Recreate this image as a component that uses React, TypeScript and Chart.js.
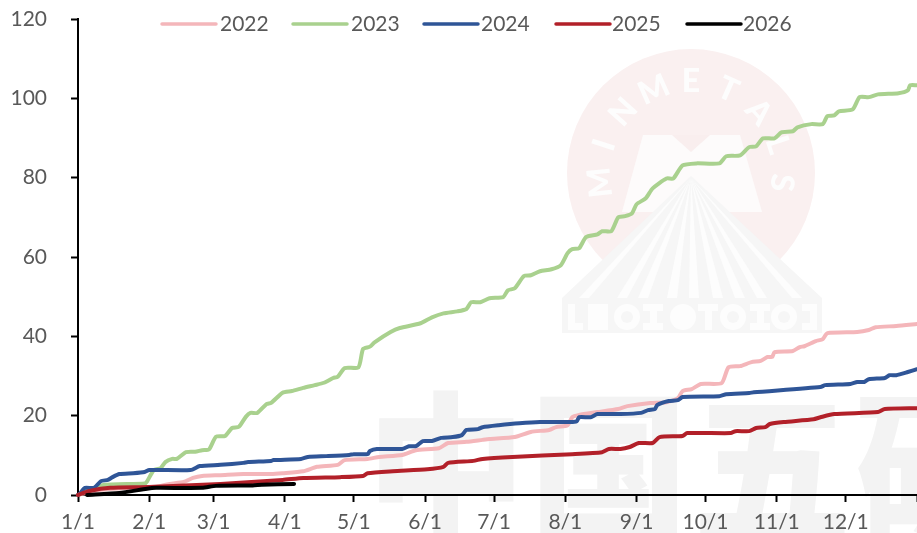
import React, { useEffect, useRef } from "react";
import { Chart, registerables } from "chart.js";

Chart.register(...registerables);

const monthStarts = [0, 31, 59, 90, 120, 151, 181, 212, 243, 273, 304, 334, 365];
const monthLabels = ["1/1", "2/1", "3/1", "4/1", "5/1", "6/1", "7/1", "8/1", "9/1", "10/1", "11/1", "12/1", ""];
const seriesNames = ["2022", "2023", "2024", "2025", "2026"];
const seriesColors = ["#F4B6BA", "#A9D18E", "#2F5597", "#B22029", "#000000"];

const days2022 = [0, 10, 23, 31, 36, 40, 46, 50, 54, 62, 72, 84, 89, 98, 104, 113, 116, 126, 131, 141, 147, 157, 161, 169, 176, 179, 190, 197, 205, 208, 213, 215, 218, 226, 235, 239, 249, 256, 261, 263, 267, 271, 280, 283, 288, 293, 297, 300, 302, 303, 311, 314, 316, 321, 324, 326, 339, 344, 347, 356, 365];
const values2022 = [0, 1.3, 1.8, 2, 2.3, 2.8, 3.3, 4.3, 4.8, 5, 5.3, 5.3, 5.5, 6, 7.1, 7.6, 8.8, 9.1, 9.6, 10.1, 11.3, 11.8, 13.1, 13.4, 13.9, 14.1, 14.6, 15.9, 16.4, 17.1, 17.6, 19.6, 20.2, 20.9, 21.7, 22.4, 23.2, 23.4, 24.4, 26.2, 26.7, 28, 28.2, 32.2, 32.5, 33.5, 33.8, 34.8, 34.8, 36, 36.3, 37.3, 37.5, 38.8, 39.3, 40.8, 41.1, 41.6, 42.3, 42.6, 43.1];

const days2023 = [0, 5, 11, 29, 30, 33, 36, 38, 41, 43, 47, 51, 54, 57, 60, 64, 67, 70, 73, 75, 78, 82, 84, 89, 93, 98, 103, 107, 111, 113, 116, 122, 124, 127, 129, 136, 140, 149, 154, 159, 165, 169, 171, 175, 179, 185, 187, 190, 194, 197, 201, 206, 210, 213, 215, 218, 221, 226, 228, 232, 235, 238, 241, 243, 247, 250, 256, 259, 263, 269, 279, 282, 288, 292, 295, 298, 303, 306, 311, 313, 319, 324, 326, 329, 331, 337, 340, 344, 348, 357, 361, 362, 365];
const values2023 = [0, 1.3, 2.5, 2.9, 3.4, 6.3, 6.8, 8.3, 9.1, 9.1, 10.8, 10.9, 11.3, 11.5, 14.7, 14.9, 16.9, 17.2, 19.7, 20.7, 20.7, 22.9, 23.2, 25.8, 26.2, 27, 27.7, 28.3, 29.5, 29.8, 32, 32.2, 36.8, 37.4, 38.5, 41.1, 42.1, 43.3, 44.8, 45.8, 46.3, 46.9, 48.6, 48.6, 49.6, 49.9, 51.6, 52.1, 55.2, 55.4, 56.4, 56.9, 57.9, 61, 62, 62.2, 65, 65.7, 66.5, 66.5, 70, 70.3, 71, 73.3, 74.8, 77.3, 79.8, 79.8, 83.1, 83.6, 83.6, 85.4, 85.6, 87.7, 87.9, 89.9, 89.9, 91.4, 91.7, 92.7, 93.5, 93.5, 95.5, 95.7, 96.7, 97.2, 100.3, 100.3, 101, 101.3, 102, 103.3, 103.3];

const days2024 = [0, 1, 3, 7, 10, 13, 15, 18, 24, 29, 31, 49, 53, 62, 72, 74, 84, 85, 97, 100, 108, 118, 120, 126, 127, 130, 141, 144, 147, 150, 154, 158, 163, 167, 169, 174, 176, 183, 192, 201, 214, 217, 218, 223, 226, 236, 245, 248, 251, 252, 257, 261, 263, 279, 282, 292, 294, 323, 325, 336, 339, 342, 344, 351, 353, 356, 361, 365];
const values2024 = [0, 0.5, 1.8, 1.8, 3.5, 3.8, 4.5, 5.3, 5.5, 5.8, 6.3, 6.3, 7.3, 7.6, 8.1, 8.3, 8.6, 8.8, 9.1, 9.6, 9.8, 10.1, 10.3, 10.3, 11.1, 11.6, 11.6, 12.3, 12.3, 13.6, 13.6, 14.4, 14.6, 15.1, 16.4, 16.6, 17.1, 17.6, 18.1, 18.4, 18.4, 18.6, 19.6, 19.6, 20.4, 20.4, 20.7, 21.4, 21.7, 22.7, 23.7, 23.9, 24.7, 24.9, 25.4, 25.7, 25.9, 27.2, 27.7, 28, 28.5, 28.5, 29.2, 29.5, 30.2, 30.2, 31, 31.7];

const days2025 = [0, 5, 14, 31, 62, 89, 98, 114, 124, 126, 137, 152, 159, 161, 172, 176, 189, 215, 228, 231, 236, 240, 244, 250, 253, 263, 265, 284, 286, 292, 295, 299, 301, 307, 320, 323, 329, 348, 351, 365];
const values2025 = [0, 1, 1.8, 2, 2.8, 3.8, 4.3, 4.5, 4.8, 5.5, 6, 6.5, 7.1, 8.1, 8.6, 9.1, 9.6, 10.3, 10.8, 11.6, 11.6, 12.1, 13.1, 13.1, 14.6, 14.9, 15.6, 15.6, 16.1, 16.1, 16.9, 17.1, 17.9, 18.4, 19.1, 19.6, 20.4, 20.9, 21.7, 21.9];

const days2026 = [4, 18, 30, 34, 54, 60, 76, 80, 94];
const values2026 = [0, 0.5, 1.6, 1.8, 1.8, 2.3, 2.4, 2.6, 2.8];

const allDays = [days2022, days2023, days2024, days2025, days2026];
const allValues = [values2022, values2023, values2024, values2025, values2026];

const FONT = "Lato, 'Noto Sans', sans-serif";
const TEXT = "#595959";

const noPadding = (s: any) => {
  s.paddingLeft = s.paddingRight = s.paddingTop = s.paddingBottom = 0;
  s.getPadding = () => ({ left: 0, right: 0, top: 0, bottom: 0 });
};

const watermarkPlugin = {
  id: "watermark",
  beforeDraw(chart: any) {
    const c = chart.ctx as CanvasRenderingContext2D;
    c.save();
    c.fillStyle = "#F3F3F3";
    c.font = "900 160px 'Noto Sans CJK SC'";
    c.textAlign = "center";
    c.textBaseline = "alphabetic";
    ["中", "国", "五", "矿"].forEach((ch, i) => c.fillText(ch, 446 + i * 163, 528));
    c.fillStyle = "#FAF0F0";
    c.beginPath();
    c.arc(691, 173, 124, 0, Math.PI * 2);
    c.fill();
    c.fillStyle = "#FDFBFB";
    c.beginPath();
    c.moveTo(622, 212);
    c.lineTo(643, 135);
    c.lineTo(740, 135);
    c.lineTo(762, 212);
    c.closePath();
    c.fill();
    c.fillStyle = "#F9EEEE";
    c.beginPath();
    c.moveTo(672, 135);
    c.lineTo(710, 135);
    c.lineTo(691, 152);
    c.closePath();
    c.fill();
    c.fillStyle = "#F6F6F6";
    c.beginPath();
    c.moveTo(691, 176);
    c.lineTo(822, 298);
    c.lineTo(562, 298);
    c.closePath();
    c.fill();
    c.fillRect(562, 298, 260, 35);
    c.fillStyle = "#FDFDFD";
    [584, 622, 643, 672, 694, 718, 740, 762, 797].forEach((bx) => {
      c.beginPath();
      c.moveTo(691, 178);
      c.lineTo(bx - 5, 298);
      c.lineTo(bx + 5, 298);
      c.closePath();
      c.fill();
    });
    const rects = [[568, 304, 7, 26], [568, 323, 15, 7], [588, 304, 20, 26], [643, 304, 20, 7], [643, 323, 20, 7], [650, 304, 7, 26], [698, 304, 20, 7], [705, 304, 7, 26], [750, 304, 20, 7], [750, 323, 20, 7], [757, 304, 7, 26], [802, 304, 15, 7], [802, 323, 15, 7], [810, 304, 7, 26]];
    rects.forEach((r) => c.fillRect(r[0], r[1], r[2], r[3]));
    [[627, 317], [683, 317], [733, 317], [784, 317]].forEach((p) => {
      c.beginPath();
      c.arc(p[0], p[1], 13, 0, Math.PI * 2);
      c.fill();
    });
    [[627, 317], [733, 317], [784, 317]].forEach((p) => {
      c.fillStyle = "#F6F6F6";
      c.beginPath();
      c.arc(p[0], p[1], 6, 0, Math.PI * 2);
      c.fill();
      c.fillStyle = "#FDFDFD";
    });
    c.font = "900 32px Lato";
    c.textAlign = "center";
    c.textBaseline = "middle";
    "MINMETALS".split("").forEach((ch, i) => {
      const a = ((-96 + i * 24) * Math.PI) / 180;
      c.save();
      c.translate(691 + 91 * Math.sin(a), 173 - 91 * Math.cos(a));
      c.rotate(a);
      c.fillText(ch, 0, 0);
      c.restore();
    });
    c.restore();
  },
};

const legendLineStarts = [162, 293, 424, 556, 687];
const legendTextStarts = [220, 351, 481, 612, 743];
const legendPlugin = {
  id: "topLegend",
  afterDraw(chart: any) {
    const c = chart.ctx as CanvasRenderingContext2D;
    c.save();
    c.font = `21px ${FONT}`;
    c.textAlign = "left";
    c.textBaseline = "middle";
    chart.data.datasets.forEach((ds: any, i: number) => {
      const x = legendLineStarts[i];
      c.strokeStyle = ds.borderColor;
      c.lineWidth = 3.5;
      c.lineCap = "round";
      c.beginPath();
      c.moveTo(x, 24);
      c.lineTo(x + 54, 24);
      c.stroke();
      c.fillStyle = TEXT;
      c.fillText(ds.label, legendTextStarts[i], 24.5);
    });
    c.restore();
  },
};

export default function App() {
  const ref = useRef<HTMLCanvasElement>(null);
  useEffect(() => {
    document.body.style.margin = "0";
    const chart = new Chart(ref.current as HTMLCanvasElement, {
      type: "line",
      data: {
        datasets: seriesNames.map((name, i) => ({
          label: name,
          data: allDays[i].map((d, j) => ({ x: d, y: allValues[i][j] })),
          borderColor: seriesColors[i],
          borderWidth: 4,
          pointRadius: 0,
          tension: 0.2,
          borderCapStyle: "round" as const,
          clip: false as any,
          order: seriesNames.length - i,
        })),
      },
      options: {
        responsive: false,
        animation: false,
        layout: { autoPadding: false, padding: { top: 19, right: 0, left: 0, bottom: 0 } },
        plugins: { legend: { display: false }, tooltip: { enabled: false } },
        scales: {
          x: {
            type: "linear",
            min: 0,
            max: 365,
            afterFit: (s: any) => { s.height = 38; noPadding(s); },
            afterBuildTicks: (s: any) => { s.ticks = monthStarts.map((v) => ({ value: v })); },
            grid: { drawOnChartArea: false, drawTicks: true, tickLength: 7, tickWidth: 2, color: "#000" },
            border: { color: "#000", width: 2 },
            ticks: {
              autoSkip: false,
              maxRotation: 0,
              padding: 8,
              color: TEXT,
              font: { family: FONT, size: 21 },
              callback: (v: any) => monthLabels[monthStarts.indexOf(Number(v))] ?? "",
            },
          },
          y: {
            min: 0,
            max: 120,
            afterFit: (s: any) => { s.width = 78; noPadding(s); },
            grid: { drawOnChartArea: false, drawTicks: true, tickLength: 7, tickWidth: 2, color: "#000" },
            border: { color: "#000", width: 2 },
            ticks: { stepSize: 20, padding: 24, color: TEXT, font: { family: FONT, size: 21 } },
          },
        },
      } as any,
      plugins: [watermarkPlugin, legendPlugin],
    });
    return () => chart.destroy();
  }, []);
  return (
    <div style={{ position: "absolute", left: 0, top: 0, width: 917, height: 533 }}>
      <canvas ref={ref} width={917} height={533} style={{ display: "block" }} />
    </div>
  );
}
